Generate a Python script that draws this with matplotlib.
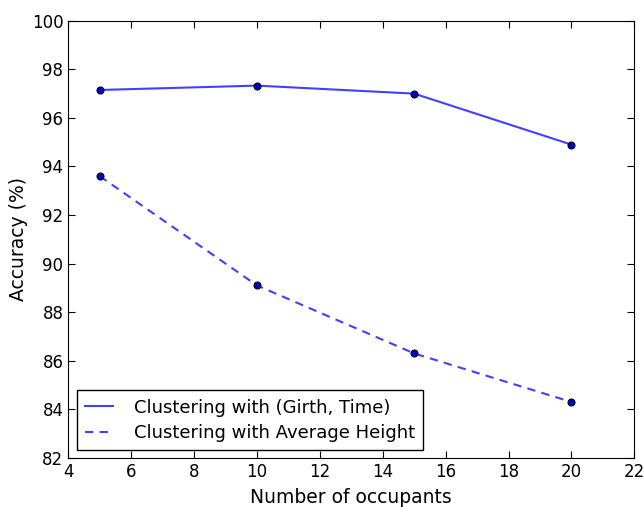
import numpy as np
import matplotlib.pyplot as plt

occupants = [5, 10, 15, 20]
girth_time = [97.15, 97.33, 97.0, 94.9]
avg_height = [93.6, 89.1, 86.3, 84.3]

fig = plt.figure(figsize=(6.44, 5.07), dpi=100)
ax = fig.add_axes([0.106, 0.097, 0.879, 0.862])

ax.plot(occupants, girth_time, '-', color='#4040ff', lw=1.5,
        label='Clustering with (Girth, Time)')
ax.plot(occupants, avg_height, '--', color='#4040ff', lw=1.5, dashes=(4, 3),
        label='Clustering with Average Height')
ax.plot(occupants, girth_time, 'o', color='#0000cc', mec='black', ms=5, mew=0.8)
ax.plot(occupants, avg_height, 'o', color='#0000cc', mec='black', ms=5, mew=0.8)

ax.set_xlim(4, 22)
ax.set_ylim(82, 100)
ax.set_xticks(np.arange(4, 23, 2))
ax.set_yticks(np.arange(82, 101, 2))
ax.tick_params(direction='in', length=5, labelsize=12, top=True, right=True, pad=3.5)
ax.set_xlabel('Number of occupants', fontsize=13.5, labelpad=5)
ax.set_ylabel('Accuracy (%)', fontsize=13.5, labelpad=3)

leg = ax.legend(loc='lower left', fontsize=13, fancybox=False, framealpha=1,
                handlelength=1.5, handletextpad=1.2, borderpad=0.45,
                labelspacing=0.4, borderaxespad=0,
                bbox_to_anchor=(0.016, 0.018))
leg.get_frame().set_edgecolor('black')

fig.savefig('out.png', dpi=100)
